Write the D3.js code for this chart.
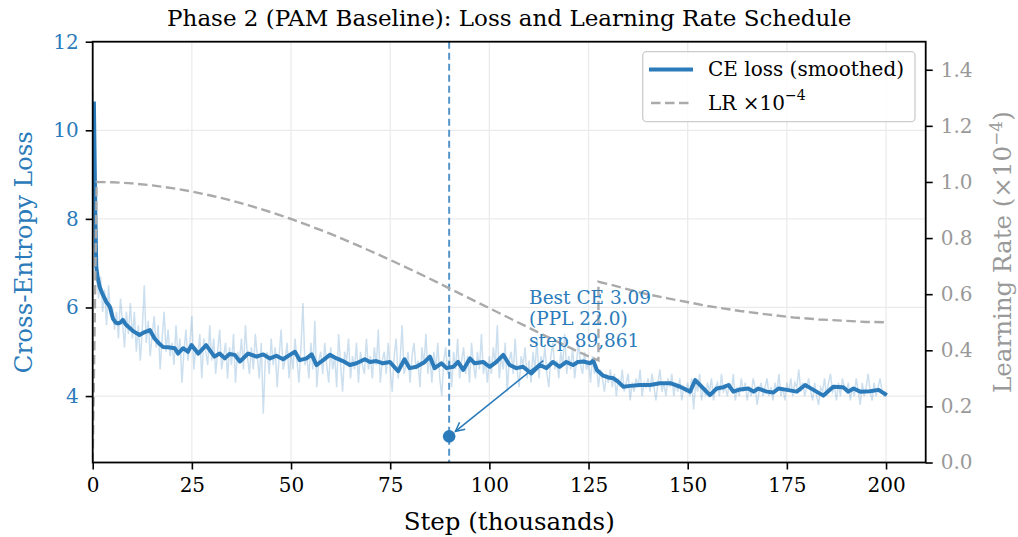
<!DOCTYPE html>
<html><head><meta charset="utf-8">
<script src="https://cdn.jsdelivr.net/npm/d3@7"></script>
<style>
body{margin:0;background:#fff;}
svg{font-family:"DejaVu Serif",serif;}
</style></head>
<body><svg id="chart" width="1018" height="537"></svg>
<script>
// ---- data ----
const rawStepStart = 0, rawStepInc = 0.5; // thousands of steps
const rawLoss = [
10.9,7.6,6.8,6.2,6.7,5.9,6.4,5.6,6.5,5.8,6.0,5.5,5.9,5.3,6.2,5.7,5.1,5.9,5.4,6.1,
5.3,5.9,5.0,5.6,4.8,5.5,6.5,5.2,5.7,4.9,5.4,5.8,5.1,5.6,4.6,5.3,5.9,5.0,5.5,4.9,
5.2,4.7,5.6,4.9,5.3,4.3,5.0,5.5,4.8,5.2,5.8,4.6,5.1,4.9,5.4,4.4,5.3,5.0,4.7,5.6,
4.8,5.3,4.5,5.0,5.5,4.6,4.9,5.2,4.4,5.1,4.7,5.4,4.3,5.0,4.8,5.3,4.6,5.6,4.9,4.5,
5.1,4.6,5.4,4.9,4.4,5.2,3.6,4.8,5.0,4.5,5.3,4.7,5.1,4.2,4.9,5.5,4.6,4.8,5.2,4.4,
5.0,4.6,5.3,4.8,4.3,5.1,6.1,4.7,4.9,4.4,5.2,4.6,5.7,4.2,4.8,5.0,4.5,5.2,4.7,4.3,
5.1,4.6,4.9,4.2,5.4,4.7,4.1,5.0,4.8,5.3,4.4,4.9,4.6,5.2,4.3,5.0,4.7,4.5,5.3,4.6,
4.9,4.4,5.1,4.7,5.5,4.3,4.8,5.0,4.5,5.2,4.6,4.1,4.9,5.3,4.4,4.8,5.6,4.5,4.7,5.0,
4.3,4.9,5.2,4.6,4.8,4.2,5.1,4.7,5.4,4.5,4.9,4.3,5.0,4.6,5.2,4.4,4.0,4.8,5.1,4.5,
4.9,4.2,5.0,4.6,5.3,4.4,4.8,5.1,4.5,4.9,4.3,5.2,4.7,4.4,5.0,4.6,5.4,4.5,4.8,4.3,
4.9,4.5,5.1,4.7,5.6,4.4,4.9,4.6,5.2,4.1,4.8,5.0,4.5,5.3,4.6,4.2,4.9,4.7,5.1,4.4,
4.8,4.3,5.0,4.6,5.3,4.4,4.9,4.7,5.1,4.5,4.2,4.9,5.2,4.6,4.8,4.4,5.0,4.7,5.4,4.5,
4.9,4.6,5.1,4.4,4.8,5.2,4.7,4.5,5.0,4.6,4.8,4.3,4.9,4.5,4.7,4.2,4.6,4.4,4.1,4.5,
4.3,4.6,4.2,4.5,4.0,4.4,4.2,4.6,4.1,4.3,4.5,3.9,4.3,4.1,4.4,4.2,4.6,4.0,4.3,4.2,
4.4,4.1,4.5,4.2,3.9,4.3,4.6,4.1,4.3,4.0,4.4,4.2,4.5,4.0,4.3,4.1,4.4,3.9,4.2,4.1,
4.3,4.0,4.4,3.7,4.3,4.1,4.5,3.9,4.2,4.0,4.3,4.1,4.4,3.9,4.2,4.3,4.0,4.5,4.1,4.2,
4.0,4.3,4.1,4.5,3.9,4.2,4.0,4.4,4.1,4.3,3.9,4.2,4.0,4.4,4.2,3.8,4.1,4.3,4.0,4.2,
4.4,4.0,4.2,3.9,4.3,4.1,4.5,4.0,4.2,3.9,4.3,4.1,4.4,4.0,4.3,4.2,4.6,4.1,4.3,4.0,
4.2,4.4,4.1,3.9,4.3,4.0,3.8,4.2,4.1,4.4,4.0,4.3,4.5,4.1,4.2,3.9,4.3,4.0,4.4,4.2,
4.1,4.3,3.9,4.2,4.0,4.4,4.1,3.8,4.3,4.0,4.2,4.5,4.1,3.9,4.3,4.0,4.2,4.4,4.1,4.0,
4.1];

const smoothSteps = [0.3,0.66,0.9,1.3,1.75,2.5,3.4,4.3,5.1,5.8,6.4,7.0,7.6,8.3,8.9,10.3,11.8,13,14.4,15.6,16.6,17.7,19,20.7,21.5,22.8,24,24.9,26.6,28.6,30.7,32,33.3,34.5,35.8,37.1,39.2,
41.3,43.0,44.7,46.3,48.0,49.7,51.0,52.2,53.9,55.2,56.4,58.1,59.8,61.5,63.1,64.8,66.5,68.6,69.9,71.5,73.2,74.9,77.0,78.6,79.9,81.6,83.7,85.0,86.2,87.9,89.2,90.9,92.1,93.4,95.1,96.3,98.4,100.1,101.8,103.5,105.1,106.8,108.5,110.6,112.7,114.4,116.0,117.7,119.4,121.1,122.3,
123.7,125.4,126.2,127.1,128.7,130,131.3,132.5,133.8,135.5,138,140.5,143,145.6,148.1,150.6,151.9,153.1,155.6,157.3,159,160.3,161.5,163.2,165.3,166.6,167.8,169.9,171.6,172.9,175,177.5,179.6,181.7,184.2,186.7,189.2,190.5,191.8,193.5,196,198.1,200.2];
const smoothLoss = [10.65,8.13,6.92,6.65,6.47,6.3,6.13,6.02,5.75,5.66,5.64,5.66,5.72,5.62,5.57,5.46,5.38,5.44,5.49,5.30,5.2,5.11,5.1,5.08,4.96,5.08,5.0,5.15,4.96,5.15,4.89,4.96,4.85,4.95,4.93,4.78,4.96,
4.89,4.94,4.85,4.91,4.83,4.93,5.00,4.81,4.85,4.94,4.70,4.81,4.93,4.85,4.79,4.70,4.74,4.83,4.77,4.79,4.74,4.77,4.56,4.83,4.63,4.66,4.77,4.89,4.63,4.74,4.63,4.66,4.77,4.59,4.85,4.74,4.77,4.66,4.77,4.93,4.70,4.63,4.66,4.51,4.70,4.63,4.77,4.66,4.77,4.70,4.77,
4.78,4.74,4.80,4.59,4.46,4.42,4.40,4.32,4.21,4.23,4.25,4.25,4.29,4.29,4.21,4.10,4.36,4.25,4.02,4.17,4.20,4.25,4.10,4.15,4.17,4.10,4.17,4.10,4.08,4.17,4.14,4.10,4.25,4.14,4.01,4.21,4.20,4.10,4.17,4.10,4.11,4.14,4.02];

const lrSteps = [0,1,5,10,15,20,25,30,35,40,45,50,55,60,65,70,75,80,85,90,95,100,105,110,115,120,125,127.5,127.5,130,135,139.7,145,149.8,155,163.2,170,176.7,183,190.1,195,200];
const lrValues = [0,1.0,0.999,0.995,0.988,0.978,0.966,0.951,0.934,0.914,0.892,0.868,0.842,0.815,0.785,0.754,0.722,0.689,0.655,0.620,0.585,0.550,0.515,0.480,0.445,0.411,0.378,0.364,0.644,0.636,0.617,0.600,0.585,0.572,0.558,0.540,0.528,0.517,0.510,0.505,0.501,0.500];

const best = {step: 89.861, ce: 3.09, ppl: 22.0};
const annLines = ["Best CE 3.09", "(PPL 22.0)", "step 89,861"];
const xTicks = [0,25,50,75,100,125,150,175,200];
const yTicks = [4,6,8,10,12];
const y2Ticks = [0.0,0.2,0.4,0.6,0.8,1.0,1.2,1.4];

// ---- layout ----
const blue = "#2b7bba", gray = "#aaaaaa", tickGray = "#999999";
const m = {left: 92.7, right: 925.7, top: 41.7, bottom: 462.5};
const svg = d3.select("#chart");
const x = d3.scaleLinear().domain([0, 210]).range([m.left, m.right]);
const y = d3.scaleLinear().domain([2.5, 12]).range([m.bottom, m.top]);
const y2 = d3.scaleLinear().domain([0, 1.5]).range([m.bottom, m.top]);

const defs = svg.append("defs");
defs.append("clipPath").attr("id","clip")
  .append("rect").attr("x",m.left).attr("y",m.top).attr("width",m.right-m.left).attr("height",m.bottom-m.top);

// grid
const grid = svg.append("g");
grid.selectAll(".gx").data(xTicks).join("line")
  .attr("x1",d=>x(d)).attr("x2",d=>x(d)).attr("y1",m.top).attr("y2",m.bottom)
  .attr("stroke","#ebebeb").attr("stroke-width",1.3);
grid.selectAll(".gy").data(yTicks).join("line")
  .attr("y1",d=>y(d)).attr("y2",d=>y(d)).attr("x1",m.left).attr("x2",m.right)
  .attr("stroke","#ebebeb").attr("stroke-width",1.3);

const plot = svg.append("g").attr("clip-path","url(#clip)");

// raw loss
const rawData = rawLoss.map((v,i)=>[rawStepStart + i*rawStepInc, v]);
plot.append("path").datum(rawData)
  .attr("d", d3.line().x(d=>x(d[0])).y(d=>y(d[1])))
  .attr("fill","none").attr("stroke",blue).attr("stroke-opacity",0.24).attr("stroke-width",1.5);

// smoothed
const smData = smoothSteps.map((s,i)=>[s, smoothLoss[i]]);
plot.append("path").datum(smData)
  .attr("d", d3.line().x(d=>x(d[0])).y(d=>y(d[1])))
  .attr("fill","none").attr("stroke",blue).attr("stroke-width",4).attr("stroke-linejoin","round");

// best vline
plot.append("line").attr("x1",x(best.step)).attr("x2",x(best.step)).attr("y1",m.top).attr("y2",m.bottom)
  .attr("stroke",blue).attr("stroke-opacity",0.8).attr("stroke-width",2).attr("stroke-dasharray","7,4");

// best point
plot.append("circle").attr("cx",x(best.step)).attr("cy",y(best.ce)).attr("r",6.3).attr("fill",blue);

// annotation text
const annX = 110, annY = 6.19;
const annT = svg.append("text").attr("x",x(annX)).attr("y",y(annY)).attr("fill",blue)
  .attr("font-size",18.5).attr("dominant-baseline","middle");
annLines.forEach((t,i)=>annT.append("tspan").attr("x",x(annX)).attr("dy", i===0?0:21.4).text(t));

// arrow
defs.append("marker").attr("id","ah").attr("viewBox","-10 -6 12 12")
  .attr("refX",0).attr("refY",0).attr("markerWidth",12).attr("markerHeight",12)
  .attr("markerUnits","userSpaceOnUse").attr("orient","auto")
  .append("path").attr("d","M-9,-4.5 L0,0 L-9,4.5").attr("fill","none").attr("stroke",blue).attr("stroke-width",1.5);
const ax0 = x(113.6), ay0 = y(4.80);
const px = x(best.step), py = y(best.ce);
const ang = Math.atan2(py-ay0, px-ax0);
svg.append("line").attr("x1",ax0).attr("y1",ay0)
  .attr("x2",px-Math.cos(ang)*8).attr("y2",py-Math.sin(ang)*8)
  .attr("stroke",blue).attr("stroke-width",1.6).attr("marker-end","url(#ah)");

// LR line
const lrData = lrSteps.map((s,i)=>[s, lrValues[i]]);
plot.append("path").datum(lrData)
  .attr("d", d3.line().x(d=>x(d[0])).y(d=>y2(d[1])))
  .attr("fill","none").attr("stroke",gray).attr("stroke-width",2.4).attr("stroke-dasharray","9.5,4.5");

// spines
svg.append("rect").attr("x",m.left).attr("y",m.top).attr("width",m.right-m.left).attr("height",m.bottom-m.top)
  .attr("fill","none").attr("stroke","#000").attr("stroke-width",1.8);

// axes
function styleAxis(g, color){
  g.select(".domain").remove();
  g.selectAll(".tick line").attr("stroke","#000").attr("stroke-width",1.6);
  g.selectAll(".tick text").attr("fill",color).attr("font-family","DejaVu Serif").attr("font-size",20);
}
const gx = svg.append("g").attr("transform",`translate(0,${m.bottom})`)
  .call(d3.axisBottom(x).tickValues(xTicks).tickSize(7).tickPadding(8).tickFormat(d3.format("d")));
styleAxis(gx,"#000");
const gy = svg.append("g").attr("transform",`translate(${m.left},0)`)
  .call(d3.axisLeft(y).tickValues(yTicks).tickSize(7).tickPadding(7).tickFormat(d3.format("d")));
styleAxis(gy, blue);
const gy2 = svg.append("g").attr("transform",`translate(${m.right},0)`)
  .call(d3.axisRight(y2).tickValues(y2Ticks).tickSize(7).tickPadding(8).tickFormat(d3.format(".1f")));
styleAxis(gy2, tickGray);

// title and labels
svg.append("text").attr("x",(m.left+m.right)/2).attr("y",26).attr("text-anchor","middle")
  .attr("font-size",23).attr("fill","#000").text("Phase 2 (PAM Baseline): Loss and Learning Rate Schedule");
svg.append("text").attr("x",(m.left+m.right)/2).attr("y",530).attr("text-anchor","middle")
  .attr("font-size",24.5).attr("fill","#000").text("Step (thousands)");
svg.append("text").attr("transform",`translate(32,${(m.top+m.bottom)/2}) rotate(-90)`).attr("text-anchor","middle")
  .attr("font-size",24.5).attr("fill",blue).text("Cross-Entropy Loss");
const r2 = svg.append("text").attr("transform",`translate(1011,${(m.top+m.bottom)/2}) rotate(-90)`).attr("text-anchor","middle")
  .attr("font-size",24.5).attr("fill",tickGray);
r2.append("tspan").text("Learning Rate (×10");
r2.append("tspan").attr("font-size",17).attr("dy",-9).text("−4");
r2.append("tspan").attr("dy",9).text(")");

// legend
const lg = svg.append("g");
lg.append("rect").attr("x",642.7).attr("y",51.7).attr("width",272.3).attr("height",70).attr("rx",4)
  .attr("fill","#fff").attr("fill-opacity",0.85).attr("stroke","#cccccc").attr("stroke-width",1.3);
lg.append("line").attr("x1",649).attr("x2",693).attr("y1",69.5).attr("y2",69.5).attr("stroke",blue).attr("stroke-width",4);
lg.append("line").attr("x1",651).attr("x2",693).attr("y1",103).attr("y2",103).attr("stroke",gray).attr("stroke-width",2.4).attr("stroke-dasharray","9.5,4.5");
lg.append("text").attr("x",708).attr("y",70).attr("dominant-baseline","middle").attr("font-size",20).text("CE loss (smoothed)");
const l2 = lg.append("text").attr("x",708).attr("y",104).attr("dominant-baseline","middle").attr("font-size",20);
l2.append("tspan").text("LR ×10");
l2.append("tspan").attr("font-size",14).attr("dy",-8).text("−4");
</script></body></html>
